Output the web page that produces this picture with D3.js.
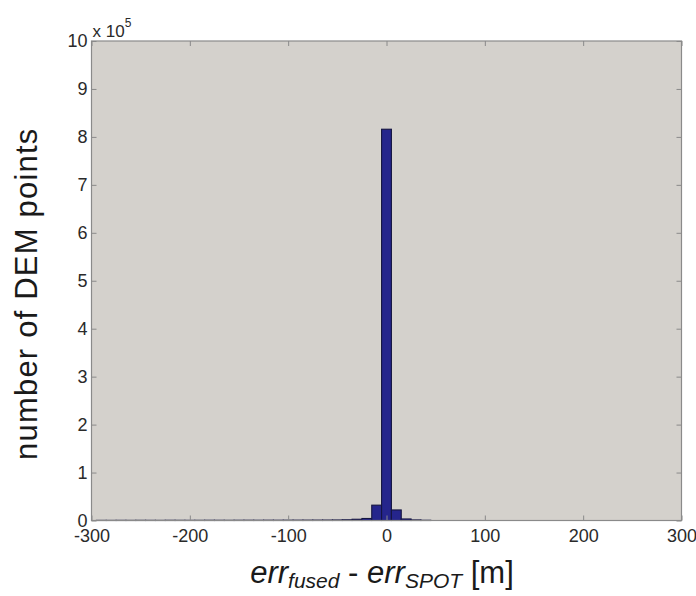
<!DOCTYPE html>
<html>
<head>
<meta charset="utf-8">
<script src="https://cdn.jsdelivr.net/npm/d3@7"></script>
<style>
  html, body { margin: 0; padding: 0; background: #ffffff; }
  svg { display: block; }
  .tick text { font-family: "Liberation Sans", Arial, Helvetica, sans-serif; }
</style>
</head>
<body>
<svg id="chart" width="696" height="596"></svg>
<script>
// Histogram of elevation-error differences (bin centers in metres, counts of DEM points)
const binCenters = [-290, -280, -270, -260, -250, -240, -230, -220, -210, -200,
                    -190, -180, -170, -160, -150, -140, -130, -120, -110, -100,
                    -90, -80, -70, -60, -50, -40, -30, -20, -10, 0, 10, 20, 30, 40];
const binCounts  = [300, 250, 350, 300, 400, 350, 300, 450, 400, 350,
                    400, 500, 450, 400, 500, 550, 500, 600, 550, 650,
                    700, 750, 800, 900, 1100, 1500, 2600, 4200, 32000, 816000, 22000, 3200, 1200, 500];
const binWidth = 10;

const xTicks = [-300, -200, -100, 0, 100, 200, 300];
const yTicks = [0, 1, 2, 3, 4, 5, 6, 7, 8, 9, 10];   // in units of 10^5
const yExponent = 5;

const svg = d3.select("#chart");
const plot = { left: 91.5, right: 681.5, top: 41, bottom: 520.5 };

const x = d3.scaleLinear().domain([-300, 300]).range([plot.left, plot.right]);
const y = d3.scaleLinear().domain([0, 10 * Math.pow(10, yExponent)]).range([plot.bottom, plot.top]);
const yT = d3.scaleLinear().domain([0, 10]).range([plot.bottom, plot.top]);

// plot background
svg.append("rect")
  .attr("x", plot.left).attr("y", plot.top)
  .attr("width", plot.right - plot.left).attr("height", plot.bottom - plot.top)
  .attr("fill", "#d4d1cc");

// histogram bars
const bins = binCenters.map((c, i) => ({ c, n: binCounts[i] }));
svg.append("g").selectAll("rect").data(bins).join("rect")
  .attr("x", d => x(d.c - binWidth / 2))
  .attr("width", d => x(d.c + binWidth / 2) - x(d.c - binWidth / 2))
  .attr("y", d => y(d.n))
  .attr("height", d => plot.bottom - y(d.n))
  .attr("fill", "#25258c")
  .attr("stroke", "#151540")
  .attr("stroke-width", 1.1);

const axisColor = "#8a8a8a";
const textColor = "#2a2a2a";
const plainInt = d => String(d);   // hyphen-minus, as in the printed figure

function styleAxis(g, showText) {
  g.select(".domain").remove();
  g.selectAll(".tick line").attr("stroke", axisColor).attr("stroke-width", 1);
  g.selectAll(".tick text")
    .attr("fill", textColor)
    .style("font-size", "18px");
  if (!showText) g.selectAll(".tick text").remove();
}

// bottom axis with labels
svg.append("g")
  .attr("transform", `translate(0,${plot.bottom})`)
  .call(d3.axisBottom(x).tickValues(xTicks).tickFormat(plainInt)
    .tickSizeInner(-5).tickSizeOuter(0).tickPadding(9))
  .call(g => styleAxis(g, true));

// top axis (ticks only)
svg.append("g")
  .attr("transform", `translate(0,${plot.top})`)
  .call(d3.axisTop(x).tickValues(xTicks).tickSizeInner(-5).tickSizeOuter(0))
  .call(g => styleAxis(g, false));

// left axis with labels
svg.append("g")
  .attr("transform", `translate(${plot.left},0)`)
  .call(d3.axisLeft(yT).tickValues(yTicks).tickFormat(plainInt)
    .tickSizeInner(-5).tickSizeOuter(0).tickPadding(4))
  .call(g => styleAxis(g, true));

// right axis (ticks only)
svg.append("g")
  .attr("transform", `translate(${plot.right},0)`)
  .call(d3.axisRight(yT).tickValues(yTicks).tickSizeInner(-5).tickSizeOuter(0))
  .call(g => styleAxis(g, false));

// frame
svg.append("rect")
  .attr("x", plot.left).attr("y", plot.top)
  .attr("width", plot.right - plot.left).attr("height", plot.bottom - plot.top)
  .attr("fill", "none").attr("stroke", axisColor).attr("stroke-width", 1.2);

// exponent multiplier
const expo = svg.append("text")
  .attr("x", plot.left + 1).attr("y", 37)
  .attr("font-family", "Liberation Sans, Arial, sans-serif")
  .attr("font-size", 17).attr("fill", textColor);
expo.append("tspan").text("x 10");
expo.append("tspan").attr("dy", -10).attr("font-size", 12).text(String(yExponent));

// y-axis title
svg.append("text")
  .attr("transform", `translate(37,${(plot.top + plot.bottom) / 2 + 13}) rotate(-90)`)
  .attr("text-anchor", "middle")
  .attr("font-family", "Liberation Sans, Arial, sans-serif")
  .attr("font-size", 31).attr("letter-spacing", 1.2)
  .attr("fill", "#1a1a1a")
  .text("number of DEM points");

// x-axis title
const xt = svg.append("text")
  .attr("x", 382).attr("y", 583)
  .attr("text-anchor", "middle")
  .attr("font-family", "Liberation Sans, Arial, sans-serif")
  .attr("font-size", 31).attr("fill", "#1a1a1a");
xt.append("tspan").attr("font-style", "italic").text("err");
xt.append("tspan").attr("font-style", "italic").attr("font-size", 21).attr("dy", 5).text("fused");
xt.append("tspan").attr("dy", -5).text(" - ");
xt.append("tspan").attr("font-style", "italic").text("err");
xt.append("tspan").attr("font-style", "italic").attr("font-size", 21).attr("dy", 5).text("SPOT");
xt.append("tspan").attr("dy", -5).text(" [m]");
</script>
</body>
</html>
